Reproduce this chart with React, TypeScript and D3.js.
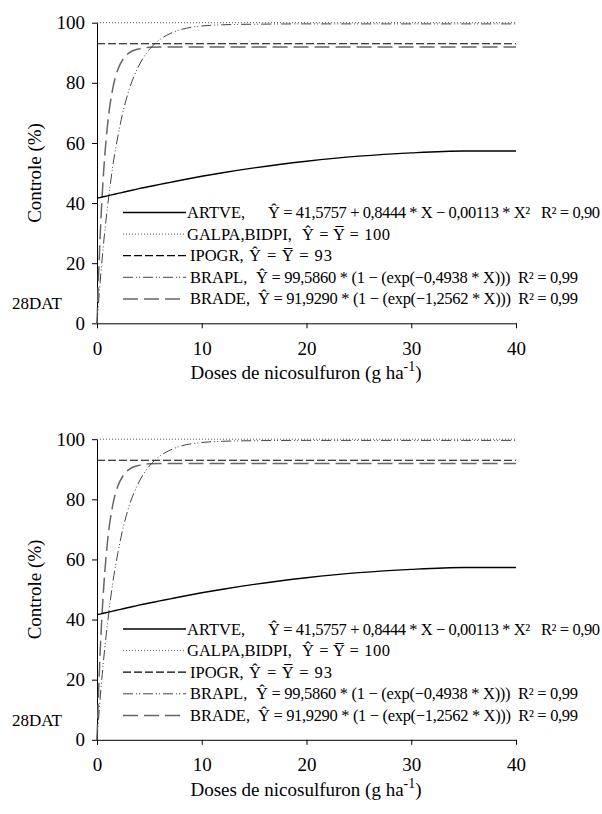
import React, { useEffect, useRef } from 'react';
import * as d3 from 'd3';

const doses = [0, 0.25, 0.5, 0.75, 1, 1.5, 2, 2.5, 3, 4, 5, 6, 7, 8, 10, 12, 15, 20, 25, 30, 35, 40];
const artve = [41.6, 41.8, 42.0, 42.2, 42.4, 42.8, 43.2, 43.6, 44.0, 44.8, 45.5, 46.2, 46.9, 47.6, 48.9, 50.1, 51.7, 53.9, 55.6, 56.7, 57.3, 57.3];
const brapl = [0, 11.6, 21.8, 30.8, 38.6, 52.1, 62.3, 70.6, 77.0, 85.7, 91.1, 94.4, 96.4, 97.7, 98.9, 99.3, 99.5, 99.6, 99.6, 99.6, 99.6, 99.6];
const brade = [0, 24.8, 42.9, 56.1, 65.8, 78.0, 84.5, 87.9, 89.8, 91.3, 91.8, 91.9, 91.9, 91.9, 91.9, 91.9, 91.9, 91.9, 91.9, 91.9, 91.9, 91.9];
const doseRange = [0, 40];
const galpaMean = 100;
const ipogrMean = 93;

const xTicks = [0, 10, 20, 30, 40];
const yTicks = [0, 20, 40, 60, 80, 100];

const legendNames = ['ARTVE,', 'GALPA,BIDPI,', 'IPOGR,', 'BRAPL,', 'BRADE,'];
const legendEqs = [
  '\u0176 = 41,5757 + 0,8444 * X \u2212 0,00113 * X\u00b2   R\u00b2 = 0,90',
  '\u0176 = Y\u0305 = 100',
  '\u0176 = Y\u0305 = 93',
  '\u0176 = 99,5860 * (1 \u2212 (exp(\u22120,4938 * X)))  R\u00b2 = 0,99',
  '\u0176 = 91,9290 * (1 \u2212 (exp(\u22121,2562 * X)))  R\u00b2 = 0,99',
];

const panelTops = [0, 416.5];
const font = 'Liberation Serif, Times New Roman, serif';

const styles = [
  { stroke: '#000', width: 1.4, dash: null }, // ARTVE
  { stroke: '#555', width: 1, dash: '1,2' }, // GALPA, BIDPI
  { stroke: '#000', width: 1.2, dash: '8,3' }, // IPOGR
  { stroke: '#444', width: 1, dash: '10,3,1,2,1,3' }, // BRAPL
  { stroke: '#666', width: 1.5, dash: '15,6' }, // BRADE
];

const drawPanel = (g) => {
  const x = d3.scaleLinear().domain([0, 40]).range([97, 516]);
  const y = d3.scaleLinear().domain([0, 100]).range([323.3, 22.7]);

  const yAxis = g
    .append('g')
    .attr('transform', `translate(${x(0)},0)`)
    .call(d3.axisLeft(y).tickValues(yTicks).tickSize(5).tickSizeOuter(0).tickPadding(7));
  const xAxis = g
    .append('g')
    .attr('transform', `translate(0,${y(0)})`)
    .call(d3.axisBottom(x).tickValues(xTicks).tickSize(5).tickSizeOuter(0).tickPadding(13));
  [yAxis, xAxis].forEach((a) => {
    a.attr('font-family', font).attr('font-size', 19);
    a.selectAll('text').attr('fill', '#000');
    a.selectAll('line,path').attr('stroke', '#000');
  });

  const line = d3
    .line()
    .x((d, i) => x(doses[i]))
    .y((d) => y(d))
    .curve(d3.curveMonotoneX);
  const flat = (v) => `M${x(doseRange[0])},${y(v)}H${x(doseRange[1])}`;

  const paths = [line(artve), flat(galpaMean), flat(ipogrMean), line(brapl), line(brade)];
  [1, 2, 4, 3, 0].forEach((k) => {
    const s = styles[k];
    g.append('path')
      .attr('d', paths[k])
      .attr('fill', 'none')
      .attr('stroke', s.stroke)
      .attr('stroke-width', s.width)
      .attr('stroke-dasharray', s.dash);
  });

  // legend: name, then the equation stretched to where the reference ends it
  const nameX = [187, 187, 190, 190, 190];
  const eqX = [268, 302, 249, 256, 258];
  const eqEnd = [600, 390, 332, 578, 578];
  legendNames.forEach((name, i) => {
    const ly = 212.5 + i * 21.6;
    const s = styles[i];
    g.append('line')
      .attr('x1', 123)
      .attr('x2', 186)
      .attr('y1', ly)
      .attr('y2', ly)
      .attr('stroke', s.stroke)
      .attr('stroke-width', s.width)
      .attr('stroke-dasharray', s.dash);
    g.append('text')
      .attr('x', nameX[i])
      .attr('y', ly + 5.5)
      .attr('font-family', font)
      .attr('font-size', 16.5)
      .text(name);
    g.append('text')
      .attr('x', eqX[i])
      .attr('y', ly + 5.5)
      .attr('font-family', font)
      .attr('font-size', 16.5)
      .attr('textLength', eqEnd[i] - eqX[i])
      .attr('lengthAdjust', 'spacing')
      .style('white-space', 'pre')
      .text(legendEqs[i]);
  });

  g.append('text')
    .attr('x', 62)
    .attr('y', 309)
    .attr('text-anchor', 'end')
    .attr('font-family', font)
    .attr('font-size', 17)
    .text('28DAT');

  // axis titles
  const xt = g
    .append('text')
    .attr('x', 306)
    .attr('y', y(0) + 56)
    .attr('text-anchor', 'middle')
    .attr('font-family', font)
    .attr('font-size', 19);
  xt.append('tspan').text('Doses de nicosulfuron (g ha');
  xt.append('tspan').attr('font-size', 14).attr('dy', -8).text('-1');
  xt.append('tspan').attr('dy', 8).text(')');

  g.append('text')
    .attr('transform', `translate(41,${(y(0) + y(100)) / 2}) rotate(-90)`)
    .attr('text-anchor', 'middle')
    .attr('font-family', font)
    .attr('font-size', 19)
    .text('Controle (%)');
};

const App = () => {
  const ref = useRef(null);

  useEffect(() => {
    const svg = d3.select(ref.current);
    svg.selectAll('*').remove();
    panelTops.forEach((top) => {
      drawPanel(svg.append('g').attr('transform', `translate(0,${top})`));
    });
  }, []);

  return (
    <svg
      ref={ref}
      width={602}
      height={814}
      style={{ position: 'absolute', left: 0, top: 0, background: '#fff' }}
    />
  );
};

export default App;
